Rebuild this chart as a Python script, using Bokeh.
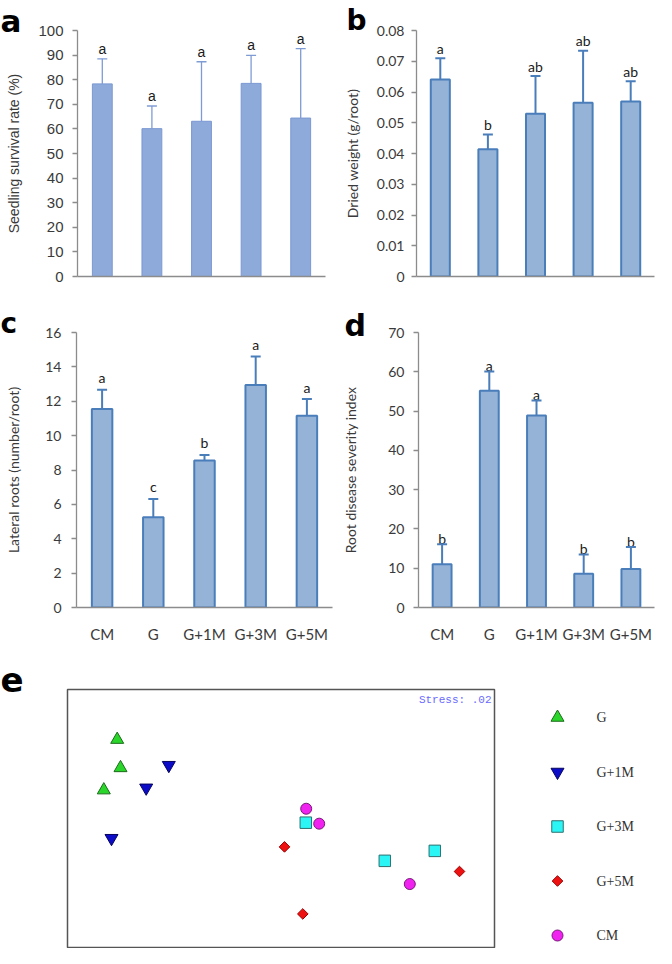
import numpy as np
from bokeh.plotting import figure
from bokeh.models import (ColumnDataSource, FactorRange, Range1d, FixedTicker,
                          Whisker, TeeHead, Label, NumeralTickFormatter, Title)
from bokeh.layouts import column, row
from bokeh.embed import file_html
from bokeh.resources import INLINE
from bokeh.core.properties import value

# ---------------- data ----------------
treatments = ["CM", "G", "G+1M", "G+3M", "G+5M"]

survival_mean = [78.3, 60.1, 63.1, 78.5, 64.4]
survival_sd = [10.2, 9.2, 24.2, 11.4, 28.2]
survival_sig = ["a", "a", "a", "a", "a"]
survival_ticks = [0, 10, 20, 30, 40, 50, 60, 70, 80, 90, 100]

weight_mean = [0.0641, 0.0414, 0.0529, 0.0565, 0.0569]
weight_sd = [0.0069, 0.0048, 0.0123, 0.0169, 0.0066]
weight_sig = ["a", "b", "ab", "ab", "ab"]
weight_ticks = [0, 0.01, 0.02, 0.03, 0.04, 0.05, 0.06, 0.07, 0.08]

roots_mean = [11.55, 5.25, 8.55, 12.95, 11.15]
roots_sd = [1.12, 1.07, 0.33, 1.65, 0.98]
roots_sig = ["a", "c", "b", "a", "a"]
roots_ticks = [0, 2, 4, 6, 8, 10, 12, 14, 16]

disease_mean = [11.0, 55.2, 48.9, 8.6, 9.8]
disease_sd = [5.1, 4.9, 3.8, 4.9, 5.6]
disease_sig = ["b", "a", "a", "b", "b"]
disease_ticks = [0, 10, 20, 30, 40, 50, 60, 70]

nmds_groups = ["G", "G+1M", "G+3M", "G+5M", "CM"]
nmds_group = ["G", "G", "G",
              "G+1M", "G+1M", "G+1M",
              "G+3M", "G+3M", "G+3M",
              "G+5M", "G+5M", "G+5M",
              "CM", "CM", "CM"]
nmds1 = [-1.633, -1.600, -1.767,
         -1.117, -1.343, -1.690,
         0.253, 1.043, 1.543,
         0.040, 0.223, 1.790,
         0.257, 0.387, 1.293]
nmds2 = [0.867, 0.583, 0.360,
         0.610, 0.383, -0.123,
         0.033, -0.350, -0.250,
         -0.210, -0.883, -0.457,
         0.173, 0.023, -0.583]
stress_text = "Stress: .02"

# ---------------- styles ----------------
AXIS_COL = "#8c8c8c"
TXT_COL = "#3a3a3a"


def bar_panel(means, sds, sig, ylabel, y_end, ticks, show_x,
              width, height, borders, font, tick_size, bar_fill, bar_line,
              bar_lw, err_col, err_lw, sig_gap, label_standoff, tick_standoff,
              fmt=None):
    l, r, t, b = borders
    p = figure(x_range=FactorRange(*treatments, range_padding=0),
               y_range=Range1d(0, y_end), width=width, height=height,
               output_backend="svg", toolbar_location=None,
               min_border_left=l, min_border_right=r,
               min_border_top=t, min_border_bottom=b)
    p.outline_line_color = None
    p.xgrid.visible = False
    p.ygrid.visible = False
    top = [m + s for m, s in zip(means, sds)]
    src = ColumnDataSource(dict(x=treatments, mean=means, top=top, sig=sig))
    p.vbar(x="x", top="mean", bottom=0, width=0.4, source=src,
           fill_color=bar_fill, line_color=bar_line, line_width=bar_lw)
    w = Whisker(source=src, base="x", lower="mean", upper="top",
                dimension="height", line_color=err_col, line_width=err_lw,
                lower_head=None,
                upper_head=TeeHead(size=10, line_color=err_col, line_width=err_lw),
                level="glyph")
    p.add_layout(w)
    p.text(x="x", y="top", text="sig", source=src, text_align="center",
           text_baseline="alphabetic", y_offset=-sig_gap,
           text_font=value(font), text_font_size="14px", text_color="#1a1a1a")

    ya = p.yaxis[0]
    ya.ticker = FixedTicker(ticks=ticks)
    if fmt is not None:
        ya.formatter = fmt
    ya.axis_line_color = AXIS_COL
    ya.axis_line_width = 1.3
    ya.major_tick_line_color = AXIS_COL
    ya.major_tick_line_width = 1.3
    ya.major_tick_out = 5
    ya.major_tick_in = 0
    ya.minor_tick_line_color = None
    ya.major_label_text_font = font
    ya.major_label_text_font_size = tick_size
    ya.major_label_text_color = TXT_COL
    ya.major_label_standoff = tick_standoff
    ya.axis_label = ylabel
    ya.axis_label_text_font = font
    ya.axis_label_text_font_size = "14px"
    ya.axis_label_text_font_style = "normal"
    ya.axis_label_text_color = TXT_COL
    ya.axis_label_standoff = label_standoff

    xa = p.xaxis[0]
    xa.axis_line_color = AXIS_COL
    xa.axis_line_width = 1.3
    xa.major_tick_line_color = None
    xa.minor_tick_line_color = None
    if show_x:
        xa.major_label_text_font = font
        xa.major_label_text_font_size = "15px"
        xa.major_label_text_color = TXT_COL
        xa.major_label_standoff = 11
    else:
        xa.major_label_text_font_size = "0px"
        xa.major_label_text_color = None
        xa.major_label_standoff = 0
    return p


def panel_letter(p, letter, offset, standoff, size):
    p.add_layout(Title(text=letter, align="left", offset=offset,
                       standoff=standoff, text_font="DejaVu Sans",
                       text_font_style="bold", text_font_size=size,
                       text_color="#000000"), "above")


pa = bar_panel(survival_mean, survival_sd, survival_sig,
               "Seedling survival rate (%)", 100, survival_ticks, False,
               336, 290, (77, 11, 30, 14), "Liberation Sans", "15px",
               "#8eaadb", "#7a98d2", 1, "#7f9bd3", 1.3, 10, 13, 9)
pb = bar_panel(weight_mean, weight_sd, weight_sig,
               "Dried weight (g/root)", 0.08, weight_ticks, False,
               320, 290, (80, 2, 30, 14), "Lato", "14px",
               "#95b3d7", "#4a7ebb", 2, "#4a7ebb", 2, 10, 13, 7,
               fmt=NumeralTickFormatter(format="0.[00]"))
pc = bar_panel(roots_mean, roots_sd, roots_sig,
               "Lateral roots (number/root)", 16, roots_ticks, True,
               336, 355, (76, 4, 42, 38), "Lato", "14px",
               "#95b3d7", "#4a7ebb", 2, "#4a7ebb", 2, 12, 20, 10)
pd_ = bar_panel(disease_mean, disease_sd, disease_sig,
                "Root disease severity index", 70, disease_ticks, True,
                320, 355, (82, 2, 42, 38), "Lato", "14px",
                "#95b3d7", "#4a7ebb", 2, "#4a7ebb", 2, 6, 26, 9)

panel_letter(pa, "a", -77, -16, "31px")
panel_letter(pb, "b", -70, -12, "28px")
panel_letter(pc, "c", -76, -14, "28px")
panel_letter(pd_, "d", -74, -20, "30px")

# ---------------- NMDS panel ----------------
marker_style = {
    "G": dict(marker="triangle", size=13, angle=0.0, fill="#2bd62b", line="#1b6b1b"),
    "G+1M": dict(marker="inverted_triangle", size=13, angle=0.0, fill="#0b0bc8", line="#05055e"),
    "G+3M": dict(marker="square", size=11.5, angle=0.0, fill="#2cf5f5", line="#2f6f6f"),
    "G+5M": dict(marker="square", size=7.5, angle=np.pi / 4, fill="#ee1111", line="#990000"),
    "CM": dict(marker="circle", size=11, angle=0.0, fill="#ef22ef", line="#7a1a7a"),
}

pe = figure(x_range=Range1d(-2.13, 2.14), y_range=Range1d(-1.22, 1.37),
            width=498, height=303, output_backend="svg", toolbar_location=None,
            min_border_left=67, min_border_right=4, min_border_top=43,
            min_border_bottom=1)
pe.axis.visible = False
pe.grid.visible = False
pe.outline_line_color = "#555555"
pe.outline_line_width = 1.5

g_arr = np.array(nmds_group)
x_arr = np.array(nmds1)
y_arr = np.array(nmds2)
for g in nmds_groups:
    s = marker_style[g]
    m = g_arr == g
    pe.scatter(x=x_arr[m], y=y_arr[m], marker=s["marker"], size=s["size"],
               angle=s["angle"], fill_color=s["fill"], line_color=s["line"],
               line_width=1)

pe.add_layout(Label(x=2.14, y=1.37, x_offset=-3, y_offset=-4, text=stress_text,
                    text_align="right", text_baseline="top",
                    text_font="Liberation Mono", text_font_size="11px",
                    text_color="#6a6aff"))
panel_letter(pe, "e", -67, -4, "34px")

# legend panel
pl = figure(x_range=Range1d(-59, 99), y_range=Range1d(4.220, -0.514),
            width=158, height=303, output_backend="svg", toolbar_location=None,
            min_border_left=0, min_border_right=0, min_border_top=44,
            min_border_bottom=1)
pl.axis.visible = False
pl.grid.visible = False
pl.outline_line_color = None
leg_y = np.arange(len(nmds_groups))
leg_x = np.zeros(len(nmds_groups))
for i, g in enumerate(nmds_groups):
    s = marker_style[g]
    pl.scatter(x=leg_x[i:i + 1], y=leg_y[i:i + 1], marker=s["marker"],
               size=s["size"], angle=s["angle"], fill_color=s["fill"],
               line_color=s["line"], line_width=1)
pl.text(x=leg_x, y=leg_y, text=nmds_groups, x_offset=39, text_baseline="middle",
        text_align="left", text_font=value("Liberation Serif"),
        text_font_size="14px", text_color="#333333")

layout = column(row(pa, pb), row(pc, pd_), row(pe, pl))

open("out.html", "w").write(file_html(layout, INLINE))
